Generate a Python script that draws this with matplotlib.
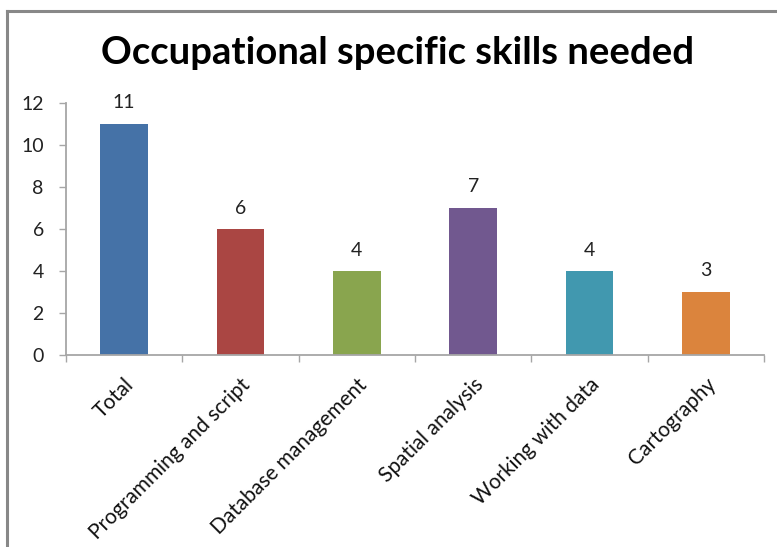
import matplotlib
matplotlib.use("Agg")
import matplotlib.pyplot as plt
from matplotlib.lines import Line2D
from matplotlib.ticker import FixedLocator

categories = ["Total", "Programming and script", "Database management",
              "Spatial analysis", "Working with data", "Cartography"]
values = [11, 6, 4, 7, 4, 3]
colors = ["#4572A7", "#AA4643", "#89A54E", "#71588F", "#4198AF", "#DB843D"]
yticks = [0, 2, 4, 6, 8, 10, 12]
title = "Occupational specific skills needed"

W, H = 777, 547
fig = plt.figure(figsize=(W / 100, H / 100), dpi=100)
fig.patch.set_facecolor("white")

# screenshot border (left & top)
fig.add_artist(Line2D([6.5 / W, 6.5 / W], [0, 1 - 11 / H], transform=fig.transFigure,
                      color="#888888", lw=2.2))
fig.add_artist(Line2D([6.5 / W, 1], [1 - 11 / H, 1 - 11 / H], transform=fig.transFigure,
                      color="#888888", lw=2.2))

left, right, bottom, top = 66, 764, 355, 103
ax = fig.add_axes([left / W, 1 - bottom / H, (right - left) / W, (bottom - top) / H])

x = list(range(len(categories)))
ax.bar(x, values, width=0.41, color=colors, zorder=2)
ax.set_xlim(-0.5, len(categories) - 0.5)
ax.set_ylim(0, 12)
ax.set_yticks(yticks)

axis_color = "#A6A6A6"
for s in ["top", "right"]:
    ax.spines[s].set_visible(False)
for s in ["left", "bottom"]:
    ax.spines[s].set_color(axis_color)
    ax.spines[s].set_linewidth(1.3)

ax.tick_params(axis="y", direction="out", length=5, color=axis_color, width=1,
               labelsize=14, labelcolor="#222222", pad=11)
ax.set_xticks(x)
ax.set_xticklabels(categories, rotation=45, ha="right", rotation_mode="anchor",
                   fontsize=15, color="#111111")
ax.tick_params(axis="x", which="major", length=0, pad=14)
ax.xaxis.set_minor_locator(FixedLocator([i - 0.5 for i in range(len(categories) + 1)]))
ax.tick_params(axis="x", which="minor", direction="out", length=5, color=axis_color, width=1)

for xi, v in zip(x, values):
    ax.annotate(str(v), (xi, v), xytext=(0, 9), textcoords="offset points",
                ha="center", va="bottom", fontsize=14, color="#222222")

fig.text(398 / W, 1 - 53 / H, title, ha="center", va="center",
         fontsize=27.5, fontweight="bold", family="Lato")

for lbl in ax.get_xticklabels() + ax.get_yticklabels():
    lbl.set_family("Lato")
for t in ax.texts:
    t.set_family("Lato")

fig.savefig("out.png", dpi=100)
